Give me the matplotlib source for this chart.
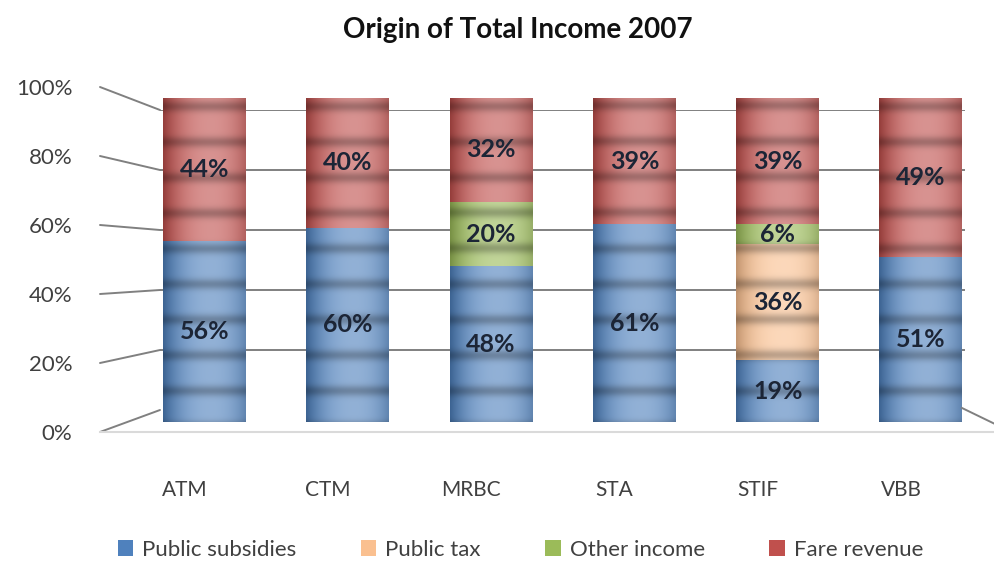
import numpy as np
import matplotlib
matplotlib.use("Agg")
import matplotlib.pyplot as plt
from matplotlib.patches import Patch, ConnectionPatch
from matplotlib.lines import Line2D
from matplotlib.colors import to_rgb
from matplotlib.transforms import ScaledTranslation

companies = ["ATM", "CTM", "MRBC", "STA", "STIF", "VBB"]
public_subsidies = [56, 60, 48, 61, 19, 51]
public_tax = [0, 0, 0, 0, 36, 0]
other_income = [0, 0, 20, 0, 6, 0]
fare_revenue = [44, 40, 32, 39, 39, 49]

series_names = ["Public subsidies", "Public tax", "Other income", "Fare revenue"]
series_colors = ["#4F81BD", "#FAC090", "#9BBB59", "#C0504D"]
y_ticks = [0, 20, 40, 60, 80, 100]

plt.rcParams["font.family"] = ["Lato", "DejaVu Sans"]
TXT = "#404040"

W, H = 995, 561
fig = plt.figure(figsize=(W / 100, H / 100), dpi=100)


def box(x0, y0, x1, y1):
    # pixel box (top-left origin) -> figure fraction rect
    return [x0 / W, 1 - y1 / H, (x1 - x0) / W, (y1 - y0) / H]


x_left = -(204.5 - 160) / 143.3
x_right = 5 + (965 - 921) / 143.3

# back wall with gridlines
ax_wall = fig.add_axes(box(160, 110, 965, 410))
ax_wall.set_xlim(x_left, x_right)
ax_wall.set_ylim(0, 100)
for v in y_ticks[1:]:
    ax_wall.axhline(v, color="#808080", lw=1.4)
ax_wall.axis("off")

# front plane holding the y labels
ax_front = fig.add_axes(box(100, 87, 101, 432))
ax_front.set_ylim(0, 100)
ax_front.set_yticks(y_ticks)
ax_front.set_yticklabels([f"{v}%" for v in y_ticks], fontsize=16, color=TXT)
ax_front.tick_params(axis="y", length=0, pad=20)
ax_front.set_xticks([])
for s in ax_front.spines.values():
    s.set_visible(False)
ax_front.patch.set_visible(False)

# slanted lines from front labels to the wall
for v in y_ticks:
    con = ConnectionPatch(xyA=(0, v), coordsA=ax_front.get_yaxis_transform(),
                          xyB=(x_left, v), coordsB=ax_wall.transData,
                          color="#808080", lw=1.4)
    fig.add_artist(con)

# floor edges
fig.add_artist(Line2D([100 / W, 1], [1 - 432 / H] * 2, transform=fig.transFigure,
                      color="#dadada", lw=1.5))
fig.add_artist(Line2D([962 / W, 1], [1 - 408 / H, 1 - 424 / H],
                      transform=fig.transFigure, color="#808080", lw=1.4))

# cylinders
ax = fig.add_axes(box(160, 98, 965, 422))
ax.patch.set_visible(False)
x = np.arange(len(companies))
width = 83 / 143.3
stack = [public_subsidies, public_tax, other_income, fare_revenue]
bottom = np.zeros(len(companies))
containers = []
for vals, name, col in zip(stack, series_names, series_colors):
    bars = ax.bar(x, vals, width, bottom=bottom, color=col, label=name, lw=0)
    containers.append((bars, vals))
    bottom += np.array(vals)

# cylinder shading + horizontal stripes
nx, ny = 60, 200
u = np.linspace(0, 1, nx)
light = np.clip(1 - ((u - 0.58) / 0.58) ** 2, 0, 1) * 0.38
edge = (np.abs(u - 0.55) / 0.55) ** 3 * 0.22
for (bars, vals), col in zip(containers, series_colors):
    base = np.array(to_rgb(col))
    for rect in bars:
        h = rect.get_height()
        if h <= 0:
            continue
        y0 = rect.get_y()
        yy = np.linspace(y0, y0 + h, ny)
        ph = np.mod(yy - 4, 11.0) - 5.5
        stripe = 0.25 * np.exp(-(ph ** 2) / (2 * 1.2 ** 2))
        c = base[None, None, :] + (1 - base[None, None, :]) * light[None, :, None]
        c = c * (1 - edge[None, :, None]) * (1 - stripe[:, None, None])
        x0 = rect.get_x()
        im = ax.imshow(np.clip(c, 0, 1), extent=[x0, x0 + rect.get_width(), y0, y0 + h],
                       origin="lower", aspect="auto", interpolation="bilinear", zorder=2)
        im.set_clip_path(rect)

for bars, vals in containers:
    labels = [f"{v}%" if v > 0 else "" for v in vals]
    ax.bar_label(bars, labels=labels, label_type="center", fontsize=18,
                 fontweight="bold", color="#1c2536", zorder=5)

ax.set_xlim(x_left, x_right)
ax.set_ylim(0, 100)
ax.set_yticks([])
ax.set_xticks(x)
ax.set_xticklabels(companies, fontsize=15, color=TXT)
ax.tick_params(axis="x", length=0, pad=42)
off = ScaledTranslation(-20 / 100, 0, fig.dpi_scale_trans)
for lab in ax.get_xticklabels():
    lab.set_transform(lab.get_transform() + off)
for s in ax.spines.values():
    s.set_visible(False)

fig.text(0.52, 1 - 30 / H, "Origin of Total Income 2007", ha="center", va="center",
         fontsize=20, fontweight="bold", color="#111111")

handles = [Patch(facecolor=c, edgecolor="none") for c in series_colors]
fig.legend(handles, series_names, loc="center", bbox_to_anchor=(0.523, 1 - 550 / H),
           ncol=4, frameon=False, fontsize=16, labelcolor=TXT, handlelength=0.7,
           handleheight=0.7, handletextpad=0.4, columnspacing=2.9)

fig.savefig("out.png", dpi=100)
